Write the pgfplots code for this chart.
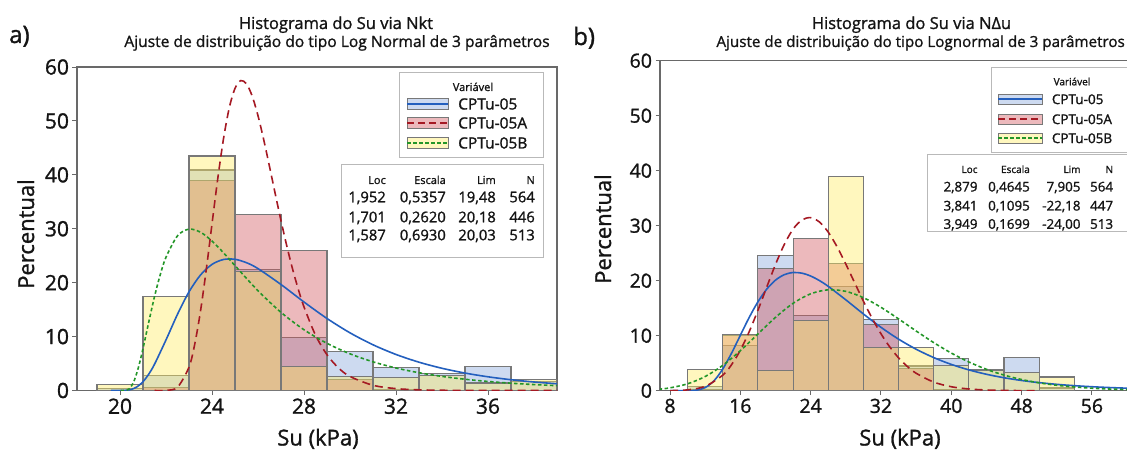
\documentclass[border=0pt]{standalone}
\usepackage{pgfplots}
\pgfplotsset{compat=1.18}
\usepackage{fontspec}
\setmainfont{Open Sans}[FakeBold=1.2]
\definecolor{fb}{RGB}{130,163,218}
\definecolor{fr}{RGB}{208,80,88}
\definecolor{fy}{RGB}{255,235,93}
\definecolor{sb}{RGB}{205,218,240}
\definecolor{sr}{RGB}{236,185,188}
\definecolor{sy}{RGB}{255,247,190}
\definecolor{lb}{RGB}{35,95,190}
\definecolor{lr}{RGB}{165,25,35}
\definecolor{lg}{RGB}{35,150,40}
\definecolor{edge}{RGB}{120,120,120}
\definecolor{axg}{RGB}{105,105,105}
\definecolor{txt}{RGB}{20,20,20}
\definecolor{boxg}{RGB}{185,185,185}
\pgfplotsset{
  hist/.style={ybar interval, fill opacity=0.4, draw=edge, line width=1.1pt},
  cb/.style={lb, line width=1.6pt, smooth},
  cr/.style={lr, line width=1.6pt, dash pattern=on 8pt off 5pt, smooth},
  cg/.style={lg, line width=1.6pt, dash pattern=on 3.5pt off 2.5pt, smooth},
  mini/.style={scale only axis, ymin=0, ymax=60, ytick={0,10,...,60},
    tick align=outside, tick pos=left, major tick length=4.5pt,
    axis line style={draw=axg, line width=1.3pt},
    every tick/.style={axg, line width=1pt},
    /pgf/number format/assume math mode=true,
    anchor=south west},
}
\begin{document}
\begin{tikzpicture}[x=1pt,y=1pt]
\useasboundingbox (0,0) rectangle (1127,450);

% ---------------- panel a ----------------
\begin{axis}[mini, at={(77pt,59.5pt)}, width=480pt, height=323.5pt,
  xmin=18.13, xmax=39.0, xtick={20,24,28,32,36},
  ticklabel style={font=\fontsize{21}{22}\selectfont, text=txt}]
\addplot[hist, fill=fb] coordinates {(19,0.45) (21,2.7) (23,40.9) (25,22.4) (27,9.8) (29,7.25) (31,4.3) (33,3.2) (35,4.5) (37,1.7) (39,1.7)};
\addplot[hist, fill=fr] coordinates {(19,0) (21,0.6) (23,38.9) (25,32.6) (27,26.0) (29,2.0) (31,0.2) (33,0) (35,0) (37,0) (39,0)};
\addplot[hist, fill=fy] coordinates {(19,1.1) (21,17.5) (23,43.5) (25,22.0) (27,4.5) (29,2.6) (31,2.35) (33,2.7) (35,1.4) (37,2.0) (39,2.0)};
\addplot[cb] coordinates {(19.6,0) (20,0.002) (20.25,0.038) (20.5,0.219) (20.75,0.706) (21,1.630) (21.25,3.033) (21.5,4.868) (22,9.385) (22.5,14.141) (23,18.302) (23.5,21.423) (24,23.391) (24.5,24.298) (25,24.331) (25.5,23.702) (26,22.608) (27,19.658) (28,16.411) (29,13.355) (30,10.695) (31,8.479) (32,6.682) (33,5.250) (34,4.120) (35,3.234) (36,2.541) (37,2.000) (38,1.578) (39,1.248)};
\addplot[cr] coordinates {(21.5,0) (22,0.024) (22.5,0.605) (23,4.341) (23.25,8.606) (23.5,14.735) (23.75,22.403) (24,30.895) (24.25,39.295) (24.5,46.704) (24.75,52.424) (25,56.049) (25.25,57.483) (25.5,56.880) (25.75,54.567) (26,50.958) (26.25,46.484) (26.5,41.541) (26.75,36.463) (27,31.501) (27.25,26.837) (27.5,22.584) (27.75,18.798) (28,15.496) (28.5,10.273) (29,6.628) (29.5,4.185) (30,2.599) (31,0.966) (32,0.348) (33,0.123) (34,0.043) (35,0.015) (37,0.002) (39,0)};
\addplot[cg] coordinates {(20.03,0) (20.2,0.005) (20.4,0.302) (20.6,1.649) (20.8,4.266) (21,7.789) (21.25,12.693) (21.5,17.413) (21.75,21.488) (22,24.725) (22.5,28.689) (23,29.932) (23.5,29.358) (24,27.721) (24.5,25.543) (25,23.159) (26,18.501) (27,14.492) (28,11.266) (29,8.748) (30,6.806) (31,5.317) (32,4.174) (33,3.295) (34,2.615) (35,2.088) (36,1.676) (37,1.353) (38,1.098) (39,0.895)};
\end{axis}

% ---------------- panel b ----------------
\begin{axis}[mini, at={(660pt,59.3pt)}, width=469pt, height=330pt,
  xmin=6.86, xmax=60.22, xtick={8,16,24,32,40,48,56},
  ticklabel style={font=\fontsize{19.5}{20}\selectfont, text=txt}]
\addplot[hist, fill=fb] coordinates {(10,0.8) (14,8.3) (18,24.6) (22,13.6) (26,18.9) (30,13.0) (34,4.5) (38,5.8) (42,3.8) (46,6.1) (50,0.5) (54,0.5)};
\addplot[hist, fill=fr] coordinates {(10,0.3) (14,10.0) (18,22.3) (22,27.7) (26,23.1) (30,12.1) (34,4.0) (38,0.3) (42,0.1) (46,0) (50,0) (54,0)};
\addplot[hist, fill=fy] coordinates {(10,3.8) (14,10.3) (18,3.6) (22,12.8) (26,39.0) (30,7.8) (34,7.8) (38,4.6) (42,3.6) (46,3.3) (50,2.5) (54,2.5)};
\addplot[cb] coordinates {(8,0) (10,0.004) (11,0.093) (12,0.564) (13,1.796) (14,3.939) (15,6.823) (16,10.075) (17,13.295) (18,16.158) (19,18.458) (20,20.104) (21,21.095) (22,21.488) (23,21.373) (24,20.851) (25,20.022) (26,18.974) (28,16.522) (30,13.951) (32,11.526) (34,9.375) (36,7.543) (38,6.022) (40,4.782) (42,3.784) (44,2.987) (46,2.356) (48,1.857) (50,1.465) (52,1.156) (54,0.914) (56,0.723) (58,0.573) (60,0.455)};
\addplot[cr] coordinates {(8,0.019) (10,0.152) (12,0.788) (14,2.821) (15,4.725) (16,7.359) (17,10.701) (18,14.616) (19,18.822) (20,22.950) (21,26.591) (22,29.375) (23,31.040) (24,31.463) (25,30.672) (26,28.829) (27,26.182) (28,23.026) (29,19.646) (30,16.291) (31,13.153) (32,10.355) (33,7.960) (34,5.983) (35,4.404) (36,3.177) (38,1.564) (40,0.720) (42,0.312) (44,0.128) (46,0.05) (48,0.02) (50,0.007)};
\addplot[cg] coordinates {(6.7,0.260) (8,0.514) (10,1.252) (12,2.580) (14,4.608) (16,7.273) (18,10.317) (20,13.335) (22,15.887) (24,17.620) (26,18.345) (28,18.061) (30,16.918) (32,15.161) (34,13.060) (36,10.857) (38,8.743) (40,6.843) (42,5.219) (44,3.889) (46,2.838) (48,2.031) (50,1.429) (52,0.990) (54,0.676) (56,0.456) (58,0.304) (60,0.200)};
\end{axis}

% ---------------- texts ----------------
\begin{scope}[every node/.style={text=txt, inner sep=0pt}]
\node[anchor=base west, font=\fontsize{24}{26}\selectfont] at (9,407) {a)};
\node[anchor=base west, font=\fontsize{24}{26}\selectfont] at (573,405) {b)};
\node[anchor=base, font=\fontsize{16.5}{18}\selectfont] at (336,421) {Histograma do Su via Nkt};
\node[anchor=base, font=\fontsize{15.6}{18}\selectfont] at (337,403) {Ajuste de distribuição do tipo Log Normal de 3 parâmetros};
\node[anchor=base, font=\fontsize{16.5}{18}\selectfont] at (911.5,421) {Histograma do Su via NΔu};
\node[anchor=base east, font=\fontsize{15.2}{18}\selectfont] at (1125,403) {Ajuste de distribuição do tipo Lognormal de 3 parâmetros};
\node[anchor=base, rotate=90, font=\fontsize{22}{24}\selectfont] at (34,216) {Percentual};
\node[anchor=base, rotate=90, font=\fontsize{22}{24}\selectfont] at (611,221) {Percentual};
\node[anchor=base, font=\fontsize{22}{24}\selectfont] at (318,4.5) {Su (kPa)};
\node[anchor=base, font=\fontsize{22}{24}\selectfont] at (900,4.5) {Su (kPa)};

% legend a
\draw[boxg, fill=white, line width=1pt] (399,292) rectangle (543,377);
\node[anchor=base, font=\fontsize{11}{12}\selectfont] at (473,359) {Variável};
\filldraw[fill=sb, draw=edge, line width=0.8pt] (407,340.5) rectangle (448,351.5);
\draw[lb, line width=1.6pt] (407,346) -- (448,346);
\filldraw[fill=sr, draw=edge, line width=0.8pt] (407,321.5) rectangle (448,332.5);
\draw[lr, line width=1.6pt, dash pattern=on 7pt off 4pt] (407,327) -- (448,327);
\filldraw[fill=sy, draw=edge, line width=0.8pt] (407,301.5) rectangle (448,312.5);
\draw[lg, line width=1.6pt, dash pattern=on 3.5pt off 2.5pt] (407,307) -- (448,307);
\node[anchor=base west, font=\fontsize{15.5}{17}\selectfont] at (458,340.5) {CPTu-05};
\node[anchor=base west, font=\fontsize{15.5}{17}\selectfont] at (458,321.5) {CPTu-05A};
\node[anchor=base west, font=\fontsize{15.5}{17}\selectfont] at (458,301.5) {CPTu-05B};
% table a
\draw[boxg, fill=white, line width=1pt] (341,192) rectangle (543,285);
\begin{scope}[every node/.append style={anchor=base east}]
\foreach \xx/\tt in {386/Loc,446/Escala,496/Lim,535/N} \node[font=\fontsize{11}{12}\selectfont] at (\xx,266) {\tt};
\foreach \xx/\tt in {386/{1,952},446/{0,5357},496/{19,48},535/564} \node[font=\fontsize{14.8}{16}\selectfont] at (\xx,247.7) {\tt};
\foreach \xx/\tt in {386/{1,701},446/{0,2620},496/{20,18},535/446} \node[font=\fontsize{14.8}{16}\selectfont] at (\xx,227.7) {\tt};
\foreach \xx/\tt in {386/{1,587},446/{0,6930},496/{20,03},535/513} \node[font=\fontsize{14.8}{16}\selectfont] at (\xx,209.7) {\tt};
\end{scope}

% legend b
\draw[boxg, fill=white, line width=1pt] (991,297.3) rectangle (1140,382.7);
\node[anchor=base, font=\fontsize{10}{11}\selectfont] at (1072,364.7) {Variável};
\filldraw[fill=sb, draw=edge, line width=0.8pt] (998,345.7) rectangle (1042,355.7);
\draw[lb, line width=1.6pt] (998,350.7) -- (1042,350.7);
\filldraw[fill=sr, draw=edge, line width=0.8pt] (998,325.7) rectangle (1042,335.7);
\draw[lr, line width=1.6pt, dash pattern=on 7pt off 4pt] (998,330.7) -- (1042,330.7);
\filldraw[fill=sy, draw=edge, line width=0.8pt] (998,306.7) rectangle (1042,316.7);
\draw[lg, line width=1.6pt, dash pattern=on 3.5pt off 2.5pt] (998,311.7) -- (1042,311.7);
\node[anchor=base west, font=\fontsize{13.5}{15}\selectfont] at (1051.7,345.9) {CPTu-05};
\node[anchor=base west, font=\fontsize{13.5}{15}\selectfont] at (1051.7,325.9) {CPTu-05A};
\node[anchor=base west, font=\fontsize{13.5}{15}\selectfont] at (1051.7,306.9) {CPTu-05B};
% table b
\draw[boxg, fill=white, line width=1pt] (927.7,218.3) rectangle (1140,295.7);
\begin{scope}[every node/.append style={anchor=base east}]
\foreach \xx/\tt in {977.7/Loc,1030/Escala,1080.7/Lim,1113.3/N} \node[font=\fontsize{10}{11}\selectfont] at (\xx,277) {\tt};
\foreach \xx/\tt in {977.7/{2,879},1030/{0,4645},1080.7/{7,905},1113.3/564} \node[font=\fontsize{13.4}{15}\selectfont] at (\xx,258.5) {\tt};
\foreach \xx/\tt in {977.7/{3,841},1030/{0,1095},1080.7/{-22,18},1113.3/447} \node[font=\fontsize{13.4}{15}\selectfont] at (\xx,239.5) {\tt};
\foreach \xx/\tt in {977.7/{3,949},1030/{0,1699},1080.7/{-24,00},1113.3/513} \node[font=\fontsize{13.4}{15}\selectfont] at (\xx,221.2) {\tt};
\end{scope}
\end{scope}
\end{tikzpicture}
\end{document}
